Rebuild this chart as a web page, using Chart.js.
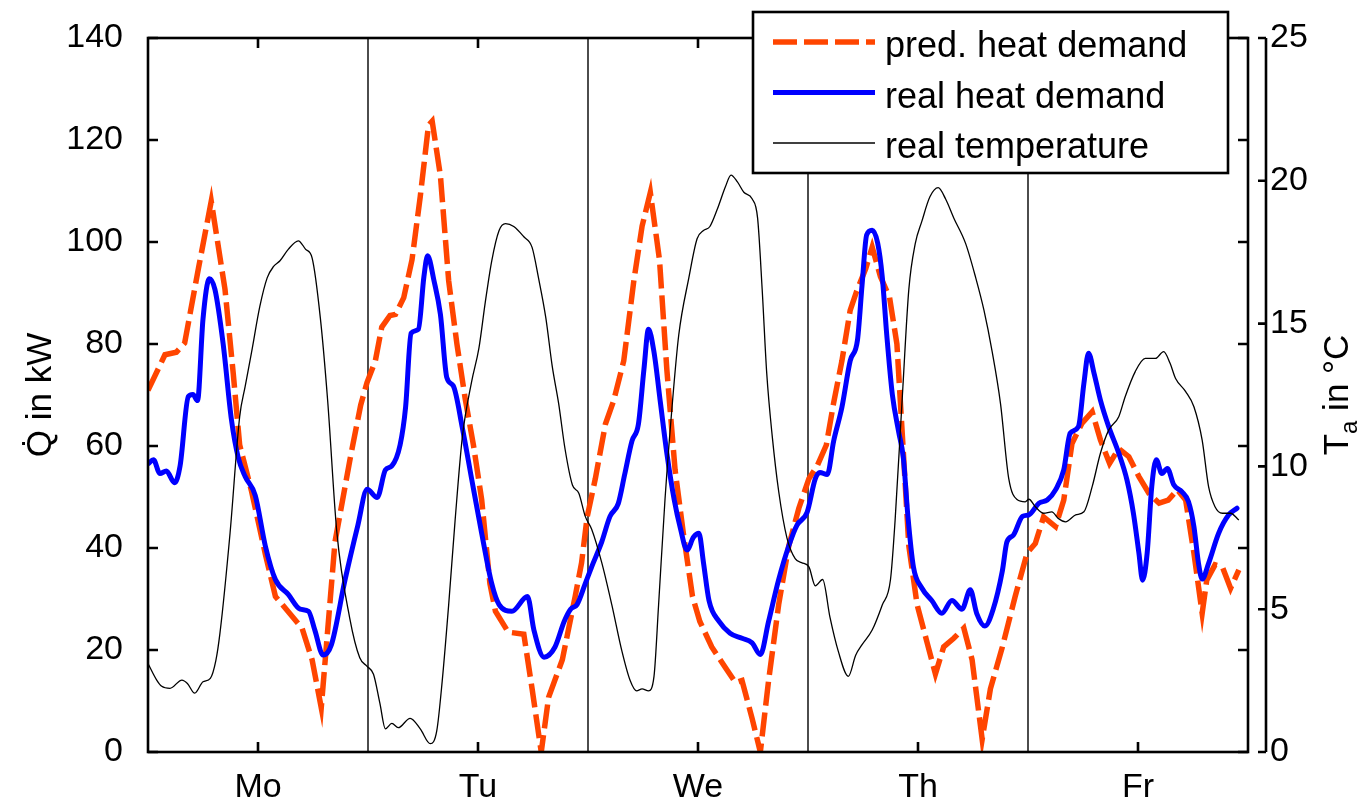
<!DOCTYPE html>
<html>
<head>
<meta charset="utf-8">
<script src="https://cdn.jsdelivr.net/npm/chart.js@4.4.0/dist/chart.umd.min.js"></script>
<style>
  html, body { margin: 0; padding: 0; background: #fff; }
</style>
</head>
<body>
<canvas id="chart" width="1371" height="802"></canvas>
<script>
const FONT = '"Liberation Sans", Arial, Helvetica, sans-serif';

// x axis: hours from Monday 0:00
const dayLabels = ["Mo", "Tu", "We", "Th", "Fr"];
const dayCenters = [12, 36, 60, 84, 108];
const dayEdges = [24, 48, 72, 96];
const qTicks = [0, 20, 40, 60, 80, 100, 120, 140];
const tTicks = [0, 5, 10, 15, 20, 25];

// predicted heat demand (kW)
const predHours = [0,1.85,3.1,4.0,5.5,6.9,8.4,9.3,10.0,11.3,12.8,13.9,16.8,17.9,18.9,20.4,22.1,23.2,23.9,24.8,25.5,26.4,27.0,27.9,28.8,29.7,30.6,31.0,31.9,32.8,33.7,34.6,35.5,36.4,37.3,37.9,39.3,41.0,41.9,42.9,43.7,45.2,46.6,47.3,47.9,48.8,49.9,50.8,51.9,53.0,53.9,54.8,55.8,56.6,57.5,58.4,59.4,60.2,61.5,63.0,64.1,64.8,65.9,66.8,67.7,68.8,69.9,71.0,72.1,73.0,74.0,74.8,75.7,76.6,77.3,78.3,79.0,79.9,80.9,81.7,82.3,83.0,83.9,85.0,85.9,86.8,87.9,89.0,89.9,91.0,91.9,93.2,94.6,95.9,96.8,97.7,99.0,99.9,100.8,101.9,103.0,103.9,104.9,105.9,107.0,108.1,109.2,110.3,111.3,112.3,113.2,114.1,115.0,115.5,116.4,117.2,118.1,119.0];
const predKW = [70.9,77.9,78.4,80.2,94.8,108,90.7,74.2,60.2,51.1,38.8,30.5,24.3,18.1,8.7,41.2,58,68,72.5,76.7,83.3,85.6,85.8,89.1,96.5,108.9,122.9,123.7,113,92.4,80,69.3,60.2,49.5,33,27.6,23.5,23.1,12.4,0,10.7,18.1,30.5,37.1,46,53.6,64.3,68.9,76.7,92.4,103.1,109.7,96.5,75,55.3,42.9,30.5,25.6,20.6,16.5,13.6,14,6.6,0,14,28.9,40.4,47.8,53.6,56.1,60.2,68.5,76.7,86.6,90.3,94.8,99,93.2,89.1,80,61.9,40.4,28.9,21.4,15.3,20.6,22.3,24.3,18.1,2.5,12.4,20.6,30.5,39,40.9,46.1,44.2,49.4,60.5,64.5,66.7,61.2,56.6,59.5,57.9,54,50.7,48.8,49.4,51.4,49.4,39,27.2,33.7,36.7,36.3,32.1,35.7];

// real heat demand (kW)
const realHours = [0,0.6,1.3,2.0,2.9,3.5,4.4,4.9,5.4,6.0,6.7,7.3,8.2,9.1,9.85,10.6,11.7,12.8,13.9,15.3,16.6,17.5,18.2,19.1,20.0,21.5,22.9,23.9,25.0,25.9,26.6,27.5,28.1,28.7,29.5,30.1,30.5,31.2,31.9,32.6,33.3,34.3,35.3,36.4,37.5,38.3,39.7,41.4,42.1,43.2,44.4,45.4,46.1,46.8,47.7,48.4,49.5,50.4,51.3,52.0,52.8,53.5,54.1,54.6,55.2,55.9,56.6,57.4,58.1,58.8,59.5,60.1,60.6,61.2,62.3,63.5,64.8,65.9,66.8,67.7,68.8,69.9,70.8,71.9,72.8,73.3,74.1,74.8,75.7,76.6,77.4,77.9,78.4,79.0,79.6,80.1,80.6,81.2,81.9,82.4,82.9,83.5,84.4,85.5,86.6,87.7,88.8,89.7,90.4,91.3,92.2,93.2,93.7,94.4,95.4,96.1,97.2,98.1,99.0,99.9,100.6,101.5,102.1,102.6,103.2,103.9,104.8,105.9,106.8,107.5,108.1,108.5,109.0,109.5,110.0,110.6,111.2,111.9,112.8,113.5,114.1,114.6,115.0,115.7,116.8,117.9,118.8];
const realKW = [56.5,57.3,54.6,55.1,52.8,56.1,69.7,70.1,68.9,84.9,92.8,90.7,80,65.2,57.7,54,50.3,40.4,33.8,30.9,28,27.6,23.9,19,21,33.8,44.5,51.5,49.9,55.3,56.1,60.2,67.6,82.1,82.9,93.2,97.3,92.4,85.8,73.4,71.8,63.5,53.6,42.9,33,28.9,27.6,30.5,23.9,18.6,20.6,25.6,28,28.9,33,36.3,41.2,46.2,48.7,54.4,61,64.3,75,82.9,78.4,68.5,58.6,49.5,43.7,39.6,42.1,42.9,37.1,29.7,25.6,23.3,22.3,21.4,19.1,25.6,33.8,40.4,44.5,47,53.6,54.8,54.4,61,67.6,76.7,80.8,91.6,101.4,102.3,99.8,93.2,81.6,70.1,62.7,57.7,46.2,36.3,32.2,29.7,27.2,29.7,28,31.8,27.2,24.7,28,35.5,41.2,42.5,46.2,46.5,48.8,49.4,51.4,55.3,62.5,63.8,72.3,78.2,74.3,69,63.8,58.6,53.3,46.8,39,33.7,39,52,57.3,54.6,55.6,52.4,51,49.1,44.2,37,33.9,37,42.9,46.5,47.8];

// real outdoor temperature (°C)
const tempHours = [0,0.95,1.5,2.4,3.7,4.3,5.1,6.0,6.8,7.4,7.85,8.95,10.0,10.6,11.3,12.2,13.0,13.7,14.4,15.3,16.4,17.2,17.9,18.8,19.6,20.6,22.0,23.1,23.9,24.6,25.3,25.9,26.6,27.3,28.6,29.7,30.8,31.5,32.1,32.8,33.5,34.3,35.3,36.1,36.8,37.5,38.3,39.0,39.9,41.0,41.9,42.6,43.4,44.1,44.8,45.5,46.3,47.0,47.7,48.4,49.5,50.6,51.7,52.6,53.3,53.9,54.6,55.2,55.7,56.4,57.2,57.9,59.0,59.9,60.6,61.3,62.1,63.0,63.6,64.3,65.0,65.9,66.5,67.0,67.5,68.1,68.8,69.7,70.6,71.3,72.1,72.8,73.6,74.4,75.3,76.4,77.2,77.9,79.0,80.1,81.0,81.5,82.3,83.0,83.7,84.4,85.3,86.2,87.0,87.9,89.2,90.3,91.2,92.1,93.0,93.9,94.8,95.7,96.1,96.8,97.7,98.6,99.3,100.1,101.2,102.1,103.0,103.9,104.8,105.9,106.6,107.7,108.8,109.9,110.8,111.5,112.1,113.2,114.1,115.0,115.7,116.4,117.2,118.1,119.0];
const tempC = [3.1,2.52,2.3,2.23,2.52,2.4,2.06,2.46,2.58,3.2,4.16,7.66,11.74,12.8,14.0,15.6,16.6,17.0,17.2,17.6,17.9,17.6,17.3,15.2,12.3,7.7,4.7,3.3,3.0,2.72,1.7,0.81,1.0,0.85,1.18,0.81,0.29,0.74,2.5,5.15,8.1,11.05,12.96,14.14,15.76,17.2,18.26,18.5,18.4,18.04,17.67,16.6,15.2,13.5,12.2,10.6,9.35,9.06,8.25,7.8,6.63,5.15,3.53,2.5,2.14,2.21,2.14,2.65,5.15,8.84,12.2,14.6,16.6,17.97,18.26,18.4,19.0,19.8,20.2,19.96,19.6,19.37,18.7,16.2,13.25,11.05,9.13,7.5,6.77,6.63,6.48,5.82,6.04,4.71,3.53,2.65,3.39,3.76,4.27,5.15,6.04,8.1,12.5,16.2,17.8,18.56,19.44,19.76,19.37,18.7,17.8,16.6,15.46,14,12.2,9.57,8.84,8.76,8.85,8.59,8.36,8.41,8.18,8.06,8.3,8.41,9.29,10.46,11.27,11.74,12.44,13.32,13.78,13.78,14.02,13.61,13.08,12.62,12.09,10.92,9.29,8.59,8.36,8.36,8.12];

const PRED_COLOR = "#ff4500";
const REAL_COLOR = "#0000ff";
const PRED_DASH = [24, 7];

function toPoints(xs, ys) {
  return xs.map((x, i) => ({ x, y: ys[i] }));
}

function noPad(s) {
  s.paddingTop = 0;
  s.paddingBottom = 0;
  s.paddingLeft = 0;
  s.paddingRight = 0;
}

// frame, inward ticks, day lines, second axis, titles and legend
const framePlugin = {
  id: "frame",
  beforeDatasetsDraw(chart) {
    const { ctx, chartArea: a, scales } = chart;
    ctx.save();
    ctx.strokeStyle = "#000";
    ctx.lineWidth = 1.4;
    dayEdges.forEach((h) => {
      const px = Math.round(scales.x.getPixelForValue(h));
      ctx.beginPath();
      ctx.moveTo(px, a.top);
      ctx.lineTo(px, a.bottom);
      ctx.stroke();
    });
    ctx.restore();
  },
  afterDraw(chart) {
    const { ctx, chartArea: a, scales } = chart;
    ctx.save();
    ctx.strokeStyle = "#000";
    ctx.lineWidth = 2.6;
    ctx.strokeRect(a.left, a.top, a.right - a.left, a.bottom - a.top);

    ctx.beginPath();
    qTicks.forEach((v) => {
      const py = scales.y.getPixelForValue(v);
      ctx.moveTo(a.left, py);
      ctx.lineTo(a.left + 10, py);
      ctx.moveTo(a.right, py);
      ctx.lineTo(a.right - 10, py);
    });
    dayCenters.forEach((h) => {
      const px = scales.x.getPixelForValue(h);
      ctx.moveTo(px, a.top);
      ctx.lineTo(px, a.top + 10);
      ctx.moveTo(px, a.bottom);
      ctx.lineTo(px, a.bottom - 10);
    });
    ctx.stroke();

    // temperature axis, set a little apart from the box
    const tx = a.right + 18;
    ctx.beginPath();
    ctx.moveTo(tx, scales.y1.getPixelForValue(25));
    ctx.lineTo(tx, scales.y1.getPixelForValue(0));
    tTicks.forEach((v) => {
      const py = scales.y1.getPixelForValue(v);
      ctx.moveTo(tx, py);
      ctx.lineTo(tx - 8, py);
    });
    ctx.stroke();

    // axis titles
    const midY = (a.top + a.bottom) / 2;
    ctx.fillStyle = "#000";
    ctx.textBaseline = "alphabetic";
    ctx.save();
    ctx.translate(51, midY);
    ctx.rotate(-Math.PI / 2);
    ctx.textAlign = "center";
    ctx.font = `35px ${FONT}`;
    ctx.fillText("Q\u0307 in kW", 0, 0);
    ctx.restore();

    ctx.save();
    ctx.translate(1348, midY);
    ctx.rotate(-Math.PI / 2);
    ctx.textAlign = "left";
    const big = `35px ${FONT}`;
    const small = `24px ${FONT}`;
    ctx.font = big;
    const wT = ctx.measureText("T").width;
    const wRest = ctx.measureText(" in °C").width;
    ctx.font = small;
    const wA = ctx.measureText("a").width;
    let cx = -(wT + wA + wRest) / 2;
    ctx.font = big;
    ctx.fillText("T", cx, 0);
    cx += wT;
    ctx.font = small;
    ctx.fillText("a", cx, 9);
    cx += wA;
    ctx.font = big;
    ctx.fillText(" in °C", cx, 0);
    ctx.restore();

    // legend box
    const box = { x: 753, y: 12, w: 475, h: 161 };
    ctx.fillStyle = "#fff";
    ctx.fillRect(box.x, box.y, box.w, box.h);
    ctx.lineWidth = 2.6;
    ctx.strokeStyle = "#000";
    ctx.strokeRect(box.x, box.y, box.w, box.h);

    chart.data.datasets.forEach((ds, i) => {
      const ly = 42 + i * 50.5;
      ctx.save();
      ctx.strokeStyle = ds.borderColor;
      ctx.lineWidth = ds.borderWidth;
      ctx.setLineDash(ds.borderDash || []);
      ctx.beginPath();
      ctx.moveTo(773, ly);
      ctx.lineTo(875, ly);
      ctx.stroke();
      ctx.restore();
      ctx.fillStyle = "#000";
      ctx.font = `36px ${FONT}`;
      ctx.textAlign = "left";
      ctx.fillText(ds.label, 885, ly + 15);
    });
    ctx.restore();
  }
};

new Chart(document.getElementById("chart"), {
  type: "line",
  data: {
    datasets: [
      {
        label: "pred. heat demand",
        data: toPoints(predHours, predKW),
        yAxisID: "y",
        borderColor: PRED_COLOR,
        borderWidth: 5.5,
        borderDash: PRED_DASH,
        pointRadius: 0,
        tension: 0,
        order: 3
      },
      {
        label: "real heat demand",
        data: toPoints(realHours, realKW),
        yAxisID: "y",
        borderColor: REAL_COLOR,
        borderWidth: 5,
        borderJoinStyle: "round",
        borderCapStyle: "round",
        pointRadius: 0,
        cubicInterpolationMode: "monotone",
        order: 2
      },
      {
        label: "real temperature",
        data: toPoints(tempHours, tempC),
        yAxisID: "y1",
        borderColor: "#000",
        borderWidth: 1.3,
        pointRadius: 0,
        cubicInterpolationMode: "monotone",
        order: 1
      }
    ]
  },
  options: {
    responsive: false,
    animation: false,
    devicePixelRatio: 1,
    layout: { padding: { top: 38, left: 0, right: 0, bottom: 0 } },
    plugins: {
      legend: { display: false },
      tooltip: { enabled: false }
    },
    scales: {
      x: {
        type: "linear",
        min: 0,
        max: 120,
        grid: { display: false, drawTicks: false },
        border: { display: false },
        afterBuildTicks: (s) => { s.ticks = dayCenters.map((v) => ({ value: v })); },
        afterFit: (s) => { s.height = 50; noPad(s); },
        ticks: {
          autoSkip: false,
          maxRotation: 0,
          padding: 15,
          color: "#000",
          font: { family: FONT, size: 34 },
          callback: (v) => dayLabels[dayCenters.indexOf(v)]
        }
      },
      y: {
        position: "left",
        min: 0,
        max: 140,
        grid: { display: false, drawTicks: false },
        border: { display: false },
        afterFit: (s) => { s.width = 148; noPad(s); },
        ticks: {
          stepSize: 20,
          padding: 25,
          color: "#000",
          font: { family: FONT, size: 34 }
        }
      },
      y1: {
        position: "right",
        min: 0,
        max: 25,
        grid: { display: false, drawTicks: false },
        border: { display: false },
        afterFit: (s) => { s.width = 123; noPad(s); },
        ticks: {
          stepSize: 5,
          padding: 22,
          color: "#000",
          font: { family: FONT, size: 34 }
        }
      }
    }
  },
  plugins: [framePlugin]
});
</script>
</body>
</html>
